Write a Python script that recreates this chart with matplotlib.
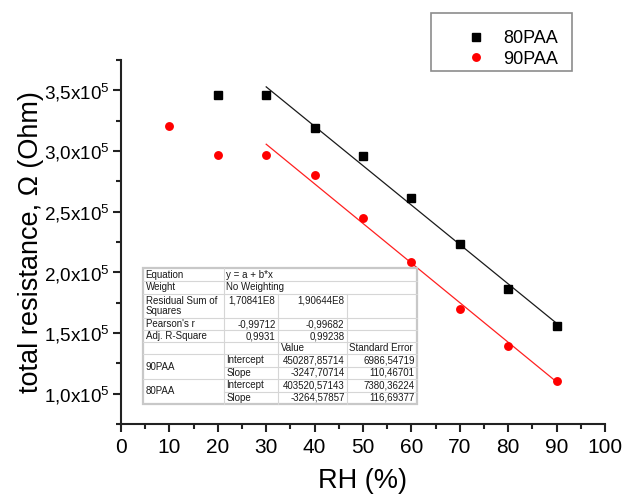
import matplotlib
matplotlib.use("Agg")
import matplotlib.pyplot as plt
from matplotlib.patches import Rectangle
from matplotlib.lines import Line2D
from matplotlib.ticker import MultipleLocator, FuncFormatter

plt.rcParams["font.family"] = ["Liberation Sans", "DejaVu Sans"]
plt.rcParams["mathtext.fontset"] = "custom"
plt.rcParams["mathtext.rm"] = "Liberation Sans"
plt.rcParams["mathtext.it"] = "Liberation Sans:italic"
plt.rcParams["mathtext.bf"] = "Liberation Sans:bold"

# ---- measured data ----
series_names = ["80PAA", "90PAA"]
rh_80 = [20, 30, 40, 50, 60, 70, 80, 90]
res_80 = [3.46e5, 3.46e5, 3.19e5, 2.96e5, 2.61e5, 2.23e5, 1.865e5, 1.555e5]
rh_90 = [10, 20, 30, 40, 50, 60, 70, 80, 90]
res_90 = [3.21e5, 2.97e5, 2.97e5, 2.805e5, 2.45e5, 2.085e5, 1.70e5, 1.395e5, 1.107e5]

# ---- linear fit results (y = a + b*x), as listed in the fit table ----
fit_labels = ["90PAA", "80PAA"]
fit_intercept = [450287.85714, 403520.57143]
fit_intercept_err = [6986.54719, 7380.36224]
fit_slope = [-3247.70714, -3264.57857]
fit_slope_err = [110.46701, 116.69377]
fit_rss = [1.70841e8, 1.90644e8]
fit_pearson = [-0.99712, -0.99682]
fit_adj_r2 = [0.9931, 0.99238]
fit_x_range = [30, 90]

x_ticks = list(range(0, 101, 10))
y_ticks = [1.0e5, 1.5e5, 2.0e5, 2.5e5, 3.0e5, 3.5e5]

W, H = 632, 495
fig = plt.figure(figsize=(W / 100, H / 100), dpi=100)


def fx(x):
    return x / W


def fy(y):
    return 1 - y / H


ax = fig.add_axes([121 / W, 71 / H, 484 / W, 364 / H])
ax.set_xlim(0, 100)
ax.set_ylim(0.75e5, 3.75e5)

ax.plot(rh_80, res_80, ls="none", marker="s", ms=5.4, color="black", zorder=3)
ax.plot(rh_90, res_90, ls="none", marker="o", ms=6.4, color="#ff0000",
        markeredgewidth=0, zorder=3)

# fitted lines drawn from the tabulated coefficients
line_colors = ["#1a1a1a", "#ff2020"]
for a, b, c in zip(fit_intercept, fit_slope, line_colors):
    ys = [a + b * x for x in fit_x_range]
    ax.plot(fit_x_range, ys, color=c, lw=0.9, zorder=2)

for s in ["top", "right"]:
    ax.spines[s].set_visible(False)
for s in ["left", "bottom"]:
    ax.spines[s].set_linewidth(1.5)
    ax.spines[s].set_color("#222222")

ax.set_xticks(x_ticks)
ax.set_yticks(y_ticks)
ax.xaxis.set_minor_locator(MultipleLocator(5))
ax.yaxis.set_minor_locator(MultipleLocator(0.25e5))
ax.yaxis.set_major_formatter(FuncFormatter(
    lambda v, p: ("%.1f" % (v / 1e5)).replace(".", ",") + r"x10$^{5}$"))
ax.tick_params(which="major", direction="out", length=6, width=1.5,
               color="#222222")
ax.tick_params(which="minor", direction="out", length=3.5, width=1.5,
               color="#222222")
ax.tick_params(axis="x", labelsize=15, pad=4)
ax.tick_params(axis="y", labelsize=13.6, pad=2)

ax.set_xlabel("RH (%)", fontsize=19.5)
ax.xaxis.set_label_coords(0.5, -0.12)
ax.set_ylabel("total resistance, \u03a9 (Ohm)", fontsize=19.5)
ax.yaxis.set_label_coords(-0.16, 0.5)

# ---- legend ----
handles = [
    Line2D([], [], ls="none", marker="s", ms=5.4, color="black"),
    Line2D([], [], ls="none", marker="o", ms=6.4, color="#ff0000",
           markeredgewidth=0),
]
fig.legend(handles, series_names, loc="center left",
           bbox_to_anchor=(fx(458), fy(49)), frameon=False, fontsize=13,
           handlelength=2, handletextpad=0.5, labelspacing=0.2,
           borderpad=0, borderaxespad=0)
fig.add_artist(Rectangle((fx(431), fy(71)), 141 / W, 58 / H,
                         transform=fig.transFigure, fill=False,
                         ec="#8c8c8c", lw=1.2))

# ---- fit table ----
def fmt(v, nd=5):
    return ("%.*f" % (nd, v)).replace(".", ",")


def fmt_g(v):
    return ("%g" % v).replace(".", ",")


table_rows = [
    ["Equation", "y = a + b*x"],
    ["Weight", "No Weighting"],
    ["Residual Sum of\nSquares"] + ["%sE8" % fmt(v / 1e8) for v in fit_rss] + [""],
    ["Pearson's r"] + [fmt_g(v) for v in fit_pearson] + [""],
    ["Adj. R-Square"] + [fmt_g(v) for v in fit_adj_r2] + [""],
    ["", "", "Value", "Standard Error"],
]
for i, name in enumerate(fit_labels):
    table_rows.append([name, "Intercept", fmt(fit_intercept[i]), fmt(fit_intercept_err[i])])
    table_rows.append(["", "Slope", fmt(fit_slope[i]), fmt(fit_slope_err[i])])

col_x = [143, 224, 278, 347, 417]
row_y = [268, 281, 294, 318, 330, 342, 354, 366.5, 379, 391.5, 404]
grid_c = "#d6d6d6"
txt_c = "#1a1a1a"
tfs = 7.0

fig.add_artist(Rectangle((fx(col_x[0]), fy(row_y[-1])),
                         (col_x[-1] - col_x[0]) / W, (row_y[-1] - row_y[0]) / H,
                         transform=fig.transFigure, fc="white", ec="#c8c8c8",
                         lw=1.6, zorder=5))


def hline(y, x0, x1):
    fig.add_artist(Line2D([fx(x0), fx(x1)], [fy(y), fy(y)],
                          transform=fig.transFigure, color=grid_c, lw=0.8, zorder=6))


def vline(x, y0, y1):
    fig.add_artist(Line2D([fx(x), fx(x)], [fy(y0), fy(y1)],
                          transform=fig.transFigure, color=grid_c, lw=0.8, zorder=6))


for k, y in enumerate(row_y[1:-1], start=1):
    if k in (7, 9):
        hline(y, col_x[1], col_x[-1])
    else:
        hline(y, col_x[0], col_x[-1])
vline(col_x[1], row_y[0], row_y[-1])
vline(col_x[2], row_y[2], row_y[-1])
vline(col_x[3], row_y[2], row_y[-1])


def put(text, col, r0, r1=None, align="left", yc=None):
    r1 = r0 + 1 if r1 is None else r1
    y = (row_y[r0] + row_y[r1]) / 2 if yc is None else yc
    if align == "left":
        x, ha = col_x[col] + 2.5, "left"
    else:
        x, ha = col_x[col + 1] - 2.5, "right"
    fig.text(fx(x), fy(y), text, ha=ha, va="center", fontsize=tfs,
             color=txt_c, zorder=7, linespacing=1.05)


for r, row in enumerate(table_rows):
    if r < 2:
        put(row[0], 0, r)
        put(row[1], 1, r)
    elif r < 5:
        put(row[0], 0, r)
        top = row_y[r] + 6.3
        put(row[1], 1, r, align="right", yc=top)
        put(row[2], 2, r, align="right", yc=top)
    elif r == 5:
        put(row[2], 2, r)
        put(row[3], 3, r)
    else:
        if row[0]:
            put(row[0], 0, r, r + 2)
        put(row[1], 1, r)
        put(row[2], 2, r, align="right")
        put(row[3], 3, r, align="right")

fig.savefig("out.png", dpi=100)
